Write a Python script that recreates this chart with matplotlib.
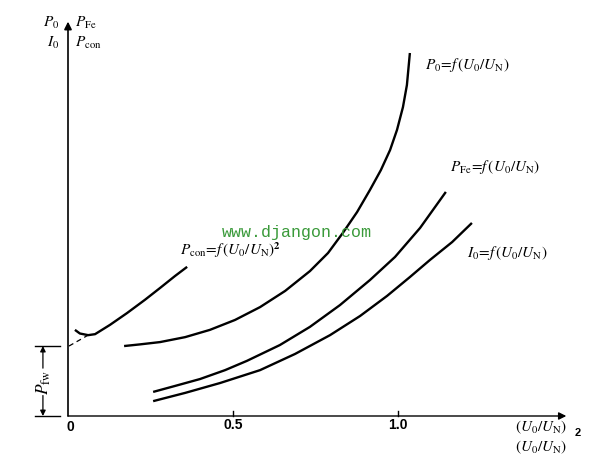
import matplotlib.pyplot as plt

plt.rcParams['mathtext.fontset'] = 'stix'
plt.rcParams['font.family'] = 'Liberation Serif'

# curves: x = U0/UN, y = relative power / current
p0_x = [0.170, 0.218, 0.279, 0.355, 0.430, 0.506, 0.582, 0.658, 0.733, 0.788,
        0.833, 0.876, 0.915, 0.948, 0.976, 0.997, 1.015, 1.027, 1.036]
p0_y = [0.212, 0.217, 0.224, 0.239, 0.261, 0.291, 0.330, 0.379, 0.439, 0.494,
        0.555, 0.618, 0.685, 0.745, 0.806, 0.867, 0.936, 1.003, 1.100]

pfe_x = [0.258, 0.324, 0.400, 0.476, 0.542, 0.642, 0.733, 0.824, 0.915, 0.991, 1.067, 1.145]
pfe_y = [0.073, 0.091, 0.112, 0.139, 0.167, 0.215, 0.270, 0.336, 0.412, 0.482, 0.570, 0.679]

i0_x = [0.258, 0.355, 0.461, 0.582, 0.688, 0.794, 0.885, 0.967, 1.036, 1.097, 1.164, 1.224]
i0_y = [0.045, 0.070, 0.100, 0.139, 0.188, 0.245, 0.303, 0.364, 0.421, 0.473, 0.527, 0.585]

pcon_x = [0.021, 0.036, 0.061, 0.082, 0.127, 0.179, 0.233, 0.279, 0.324, 0.361]
pcon_y = [0.261, 0.250, 0.245, 0.248, 0.276, 0.312, 0.352, 0.388, 0.424, 0.452]

# extrapolation to zero voltage -> mechanical losses P_fw
fw_x = [0.003, 0.061]
fw_y = [0.212, 0.245]
p_fw = 0.212

xticks = [0.5, 1.0]
xtick_labels = ['0.5', '1.0']

fig = plt.figure(figsize=(5.93, 4.67), dpi=100)
ax = fig.add_axes([0, 0, 1, 1])
ax.set_xlim(-68 / 330, (593 - 68) / 330)
ax.set_ylim((416 - 467) / 330, 416 / 330)
ax.axis('off')

lw = 1.7
for xs, ys in [(p0_x, p0_y), (pfe_x, pfe_y), (i0_x, i0_y), (pcon_x, pcon_y)]:
    ax.plot(xs, ys, color='k', lw=lw, solid_capstyle='butt', solid_joinstyle='round')
ax.plot(fw_x, fw_y, color='k', lw=0.9, ls=(0, (4, 3)))

# axes with arrows
arr = dict(arrowstyle='-|>', lw=1.2, color='k', mutation_scale=11, shrinkA=0, shrinkB=0)
ax.annotate('', xy=(0, 1.195), xytext=(0, 0), arrowprops=arr)
ax.annotate('', xy=(1.51, 0), xytext=(0, 0), arrowprops=dict(arr, lw=1.0))

for t, lab in zip(xticks, xtick_labels):
    ax.plot([t, t], [0, 0.015], color='k', lw=1.0)
    ax.text(t, -0.027, lab, ha='center', va='center', fontsize=10,
            fontweight='bold', family='Liberation Sans')
ax.text(0.006, -0.033, '0', ha='center', va='center', fontsize=10,
        fontweight='bold', family='Liberation Sans')

# P_fw bracket
for yy in [0, p_fw]:
    ax.plot([-0.1, -0.024], [yy, yy], color='k', lw=1.0)
ax.annotate('', xy=(-0.076, p_fw), xytext=(-0.076, 0.145),
            arrowprops=dict(arrowstyle='-|>', lw=0.9, color='k', mutation_scale=8,
                            shrinkA=0, shrinkB=0))
ax.annotate('', xy=(-0.076, 0), xytext=(-0.076, 0.062),
            arrowprops=dict(arrowstyle='-|>', lw=0.9, color='k', mutation_scale=8,
                            shrinkA=0, shrinkB=0))
ax.text(-0.074, 0.103, r'$P_{\mathrm{fw}}$', rotation=90, ha='center', va='center',
        fontsize=12.5)

# axis titles
fs = 11
ax.text(-0.027, 1.191, r'$P_0$', ha='right', va='center', fontsize=fs)
ax.text(-0.027, 1.130, r'$I_0$', ha='right', va='center', fontsize=fs)
ax.text(0.022, 1.191, r'$P_{\mathrm{Fe}}$', ha='left', va='center', fontsize=fs)
ax.text(0.022, 1.130, r'$P_{\mathrm{con}}$', ha='left', va='center', fontsize=fs)

# curve labels
ax.text(1.082, 1.064, r'$P_0\!=\!f\,(U_0/U_{\mathrm{N}})$', ha='left', va='center', fontsize=fs)
ax.text(1.158, 0.755, r'$P_{\mathrm{Fe}}\!=\!f\,(U_0/U_{\mathrm{N}})$', ha='left', va='center', fontsize=fs)
ax.text(1.209, 0.494, r'$I_0\!=\!f\,(U_0/U_{\mathrm{N}})$', ha='left', va='center', fontsize=fs)
ax.text(0.339, 0.503, r'$P_{\mathrm{con}}\!=\!f\,(U_0/U_{\mathrm{N}})^{\mathbf{2}}$', ha='left',
        va='center', fontsize=fs)

ax.text(0.467, 0.555, 'www.djangon.com', ha='left', va='center', fontsize=12,
        family='Liberation Mono', color='#3a9a3a')

# x axis label
ax.text(1.355, -0.033, r'$(U_0/U_{\mathrm{N}})$', ha='left', va='center', fontsize=fs)
ax.text(1.545, -0.052, '2', ha='center', va='center', fontsize=8, fontweight='bold',
        family='Liberation Sans')
ax.text(1.355, -0.094, r'$(U_0/U_{\mathrm{N}})$', ha='left', va='center', fontsize=fs)

fig.savefig('out.png', dpi=100)
